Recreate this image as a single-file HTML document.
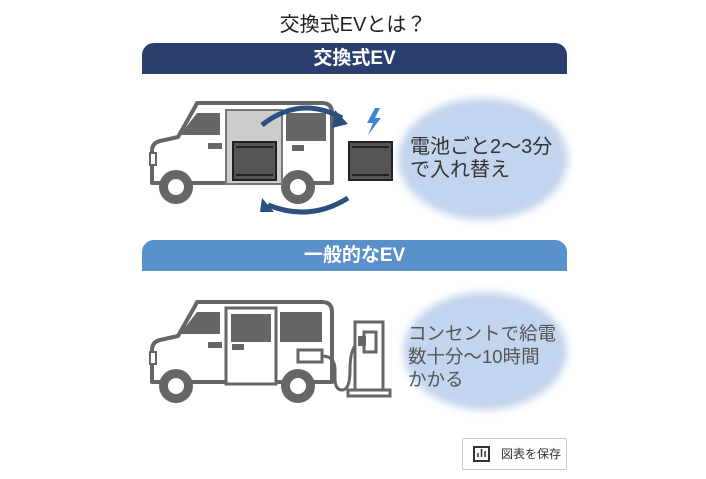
<!DOCTYPE html>
<html><head><meta charset="utf-8"><style>
body{margin:0;width:706px;height:479px;background:#fff;overflow:hidden;font-family:"Liberation Sans","Noto Sans CJK JP",sans-serif;position:relative}
.t{position:absolute;left:0;width:706px;top:8px;text-align:center;font-size:20px;color:#222}
.bar{position:absolute;left:142px;width:425px;height:31px;border-radius:12px 12px 0 0;color:#fff;font-weight:bold;font-size:19px;text-align:center;line-height:31px}
.el{position:absolute;border-radius:50%;background:#c3d4ee;filter:blur(4px)}
.tx{position:absolute;font-size:20px;line-height:23px;color:#333}
.btn{position:absolute;left:462px;top:438px;width:105px;height:32px;border:1px solid #ccc;border-radius:2px;font-size:12px;color:#333;line-height:31px;box-sizing:border-box;padding-left:38px}
</style></head><body>
<div class="t">交換式EVとは？</div>
<div class="bar" style="top:43px;background:#2b3f6e">交換式EV</div>
<div class="bar" style="top:240px;background:#5b91cb">一般的なEV</div>
<div class="el" style="left:398px;top:98px;width:170px;height:122px"></div>
<div class="el" style="left:403px;top:292px;width:164px;height:118px"></div>
<div class="tx" style="left:410px;top:136px">電池ごと2～3分<br>で入れ替え</div>
<div class="tx" style="left:408px;top:322px;color:#555;font-size:18.5px">コンセントで給電<br>数十分～10時間<br>かかる</div>
<svg width="706" height="479" style="position:absolute;left:0;top:0">
<defs>
<g id="van">
<path d="M197 0 H322 Q332 0 332 10 V80 H152 V48 Q152 40 160 38 L178 34 L195 4 Z" fill="#fff" stroke="#666" stroke-width="4" stroke-linejoin="round"/>
<path d="M180 32 L197 10 H220 V32 Z" fill="#666"/>
<rect x="150" y="50" width="6" height="12" fill="#fff" stroke="#666" stroke-width="2"/>
<rect x="208" y="40" width="14" height="6" fill="#666"/>
<circle cx="176" cy="84" r="17" fill="#666"/><circle cx="176" cy="84" r="8" fill="#fff"/>
<circle cx="298" cy="84" r="17" fill="#666"/><circle cx="298" cy="84" r="8" fill="#fff"/>
</g>
<g id="bat"><rect x="0" y="0" width="43" height="38" fill="#555" stroke="#222" stroke-width="2"/><line x1="3" y1="5" x2="40" y2="5" stroke="#222" stroke-width="2"/><line x1="3" y1="33" x2="40" y2="33" stroke="#222" stroke-width="2"/></g>
</defs>
<g transform="translate(0,103)"><use href="#van"/>
<rect x="226" y="7" width="56" height="74" fill="#ccc" stroke="#777" stroke-width="2"/>
<rect x="286" y="10" width="40" height="28" fill="#666"/>
<rect x="292" y="42" width="12" height="6" fill="#666"/>
</g>
<use href="#bat" x="233" y="142"/>
<use href="#bat" x="349" y="142"/>
<path d="M262 125 Q300 95 342 118" fill="none" stroke="#2b4f80" stroke-width="5"/>
<path d="M335 110 L348 124 L332 128 Z" fill="#2b4f80"/>
<path d="M348 198 Q310 222 268 205" fill="none" stroke="#2b4f80" stroke-width="5"/>
<path d="M262 198 L260 212 L274 212 Z" fill="#2b4f80"/>
<path d="M375 108 L367 123 L373 123 L368 135 L381 118 L375 118 L380 108 Z" fill="#3d86d8"/>
<g transform="translate(0,302)"><use href="#van"/>
<rect x="226" y="6" width="50" height="76" fill="#fff" stroke="#666" stroke-width="3"/>
<rect x="231" y="12" width="40" height="28" fill="#666"/>
<rect x="280" y="10" width="42" height="30" fill="#666"/>
<rect x="232" y="42" width="12" height="6" fill="#666"/>
<rect x="298" y="48" width="24" height="12" fill="#fff" stroke="#666" stroke-width="3"/>
</g>
<path d="M322 356 Q335 356 335 370 V378 Q335 390 342 390 Q350 390 350 370 Q350 345 360 342" fill="none" stroke="#666" stroke-width="3"/>
<rect x="355" y="322" width="28" height="68" fill="#fff" stroke="#666" stroke-width="3"/>
<rect x="348" y="390" width="42" height="6" fill="#fff" stroke="#666" stroke-width="3"/>
<rect x="364" y="332" width="12" height="20" fill="#fff" stroke="#666" stroke-width="3"/>
<rect x="358" y="336" width="8" height="10" fill="#666"/>
<rect x="474" y="447" width="15" height="14" fill="none" stroke="#333" stroke-width="2"/>
<path d="M478 457 V453 M481.5 457 V449 M485 457 V451" stroke="#333" stroke-width="1.5"/>
</svg>
<div class="btn">図表を保存</div>
</body></html>
